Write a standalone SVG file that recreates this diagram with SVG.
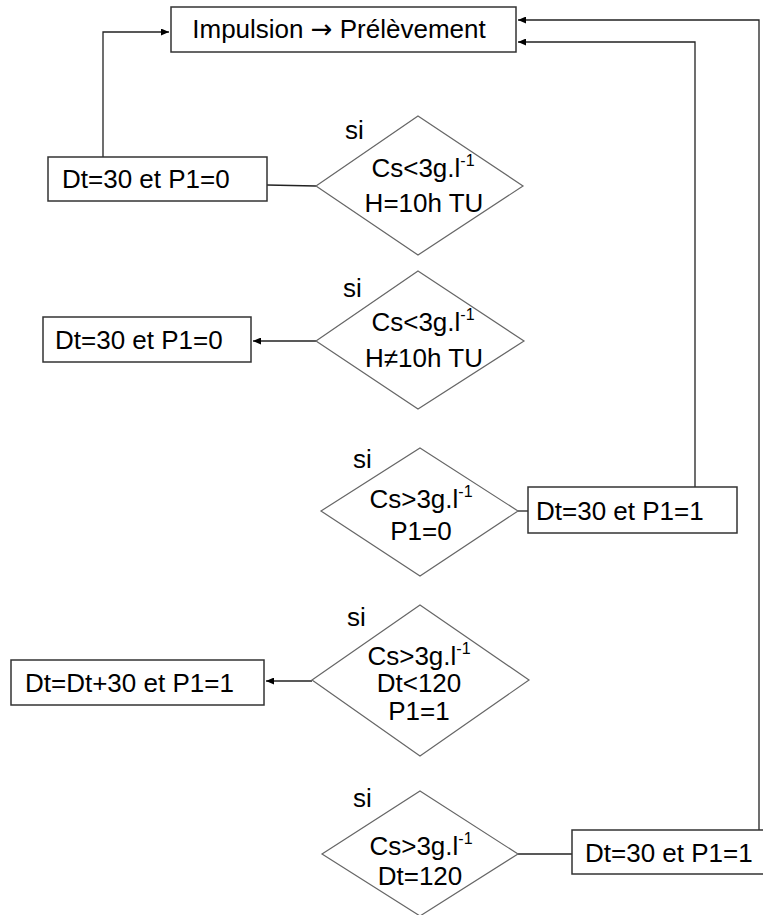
<svg xmlns="http://www.w3.org/2000/svg" width="763" height="915" viewBox="0 0 763 915">
<defs>
<style>
.box{fill:#fff;stroke:#333;stroke-width:1.5}
.dia{fill:#fff;stroke:#666;stroke-width:1.2}
.t{font-family:"Liberation Sans",Arial,sans-serif;font-size:26px;fill:#000}
.m{text-anchor:middle}
.sup{font-size:16px}
.arr{font-family:"DejaVu Sans",sans-serif}
.c{fill:none;stroke:#222;stroke-width:1.3}
</style>
<marker id="ah" markerUnits="userSpaceOnUse" markerWidth="9" markerHeight="7" refX="8" refY="3.5" orient="auto">
<path d="M0,0 L8,3.5 L0,7 z" fill="#000"/>
</marker>
</defs>
<rect width="763" height="915" fill="#fff"/>
<g id="connectors">
<polyline class="c" points="103,157 103,32 169,32" marker-end="url(#ah)"/>
<line class="c" x1="267" y1="185" x2="316" y2="186"/>
<line class="c" x1="316" y1="341" x2="253" y2="341" marker-end="url(#ah)"/>
<line class="c" x1="518" y1="511" x2="528" y2="511"/>
<polyline class="c" points="695,487 695,42 518,42" marker-end="url(#ah)"/>
<line class="c" x1="312" y1="681" x2="266" y2="681" marker-end="url(#ah)"/>
<line class="c" x1="518" y1="854" x2="572" y2="854"/>
<polyline class="c" points="759,830 759,20 518,20" marker-end="url(#ah)"/>
</g>
<g id="start">
<rect class="box" x="171" y="7" width="345" height="45"/>
<text class="t m" x="339" y="38">Impulsion <tspan class="arr">→</tspan> Prélèvement</text>
</g>
<g id="box1">
<rect class="box" x="48" y="157" width="219" height="44"/>
<text class="t" x="62" y="188">Dt=30 et P1=0</text>
</g>
<g id="dia1">
<polygon class="dia" points="418,116 523,186 418,255 316,186"/>
<text class="t" x="345" y="139">si</text>
<text class="t m" x="423" y="177">Cs&lt;3g.l<tspan class="sup" dy="-11">-1</tspan></text>
<text class="t m" x="424" y="212">H=10h TU</text>
</g>
<g id="dia2">
<polygon class="dia" points="418,271 524,341 418,409 316,341"/>
<text class="t" x="343" y="297">si</text>
<text class="t m" x="423" y="331">Cs&lt;3g.l<tspan class="sup" dy="-11">-1</tspan></text>
<text class="t m" x="424" y="367">H≠10h TU</text>
</g>
<g id="box2">
<rect class="box" x="43" y="317" width="208" height="45"/>
<text class="t" x="55" y="349">Dt=30 et P1=0</text>
</g>
<g id="dia3">
<polygon class="dia" points="420,448 518,511 420,576 321,511"/>
<text class="t" x="353" y="468">si</text>
<text class="t m" x="421" y="508">Cs&gt;3g.l<tspan class="sup" dy="-11">-1</tspan></text>
<text class="t m" x="421" y="540">P1=0</text>
</g>
<g id="box3">
<rect class="box" x="528" y="487" width="209" height="46"/>
<text class="t" x="536" y="520">Dt=30 et P1=1</text>
</g>
<g id="dia4">
<polygon class="dia" points="420,605 529,680 420,756 312,680"/>
<text class="t" x="347" y="626">si</text>
<text class="t m" x="419" y="665">Cs&gt;3g.l<tspan class="sup" dy="-11">-1</tspan></text>
<text class="t m" x="419" y="692">Dt&lt;120</text>
<text class="t m" x="419" y="720">P1=1</text>
</g>
<g id="box4">
<rect class="box" x="11" y="660" width="253" height="45"/>
<text class="t" x="25" y="692">Dt=Dt+30 et P1=1</text>
</g>
<g id="dia5">
<polygon class="dia" points="420,791 518,854 420,916 322,854"/>
<text class="t" x="353" y="807">si</text>
<text class="t m" x="421" y="855">Cs&gt;3g.l<tspan class="sup" dy="-11">-1</tspan></text>
<text class="t m" x="420" y="885">Dt=120</text>
</g>
<g id="box5">
<rect class="box" x="572" y="830" width="200" height="44"/>
<text class="t" x="585" y="862">Dt=30 et P1=1</text>
</g>
</svg>
